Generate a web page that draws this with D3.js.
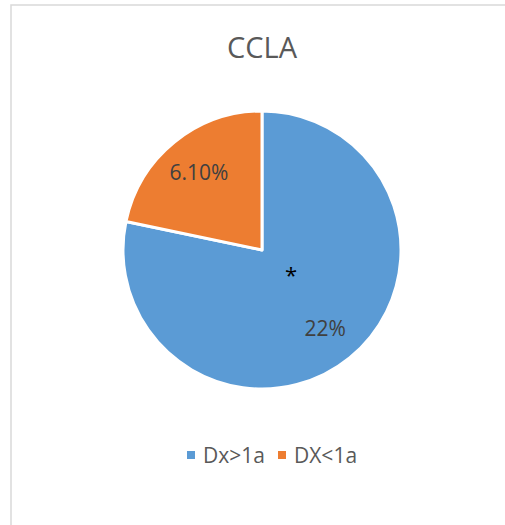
<!DOCTYPE html>
<html>
<head>
<meta charset="utf-8">
<script src="https://cdn.jsdelivr.net/npm/d3@7"></script>
<style>
  html, body { margin: 0; padding: 0; background: #ffffff; }
  svg { display: block; }
  text { font-family: "Open Sans", "DejaVu Sans", sans-serif; }
</style>
</head>
<body>
<svg id="chart" width="505" height="525"></svg>
<script>
const title = "CCLA";
const categories = ["Dx>1a", "DX<1a"];
const values = [22, 6.1];
const valueLabels = ["22%", "6.10%"];
const colors = ["#5B9BD5", "#ED7D31"];
const annotation = "*";

const svg = d3.select("#chart");
const W = 505, H = 525;

// chart border
svg.append("rect")
  .attr("x", 11).attr("y", 5)
  .attr("width", W + 20).attr("height", H + 20)
  .attr("fill", "#ffffff")
  .attr("stroke", "#d9d9d9")
  .attr("stroke-width", 1.5);

svg.append("text")
  .attr("x", 262).attr("y", 58)
  .attr("text-anchor", "middle")
  .attr("font-size", 29)
  .attr("fill", "#595959")
  .text(title);

const cx = 262, cy = 250, r = 139;
const data = categories.map((c, i) => ({ cat: c, value: values[i], label: valueLabels[i], color: colors[i] }));

const pie = d3.pie().sort(null).value(d => d.value);
const arc = d3.arc().innerRadius(0).outerRadius(r);
const labelArc = d3.arc().innerRadius(r * 0.72).outerRadius(r * 0.72);

const g = svg.append("g").attr("transform", `translate(${cx},${cy})`);
const arcs = pie(data);

g.selectAll("path.slice").data(arcs).enter().append("path")
  .attr("class", "slice")
  .attr("d", arc)
  .attr("fill", d => d.data.color)
  .attr("stroke", "#ffffff")
  .attr("stroke-width", 3)
  .attr("stroke-linejoin", "round");

g.selectAll("text.lbl").data(arcs).enter().append("text")
  .attr("class", "lbl")
  .attr("x", d => labelArc.centroid(d)[0])
  .attr("y", d => labelArc.centroid(d)[1])
  .attr("text-anchor", "middle")
  .attr("dominant-baseline", "central")
  .attr("font-size", 21)
  .attr("fill", "#404040")
  .text(d => d.data.label);

svg.append("text")
  .attr("x", 291).attr("y", 283)
  .attr("text-anchor", "middle")
  .attr("font-size", 22)
  .attr("fill", "#000000")
  .text(annotation);

// legend
const legend = svg.append("g");
const legendX = [187, 278];
const items = legend.selectAll("g").data(data).enter().append("g")
  .attr("transform", (d, i) => `translate(${legendX[i]},455)`);
items.append("rect")
  .attr("x", 0).attr("y", -4)
  .attr("width", 8).attr("height", 8)
  .attr("fill", d => d.color);
items.append("text")
  .attr("x", 16).attr("y", 0)
  .attr("dominant-baseline", "central")
  .attr("font-size", 21)
  .attr("fill", "#595959")
  .text(d => d.cat);
</script>
</body>
</html>
